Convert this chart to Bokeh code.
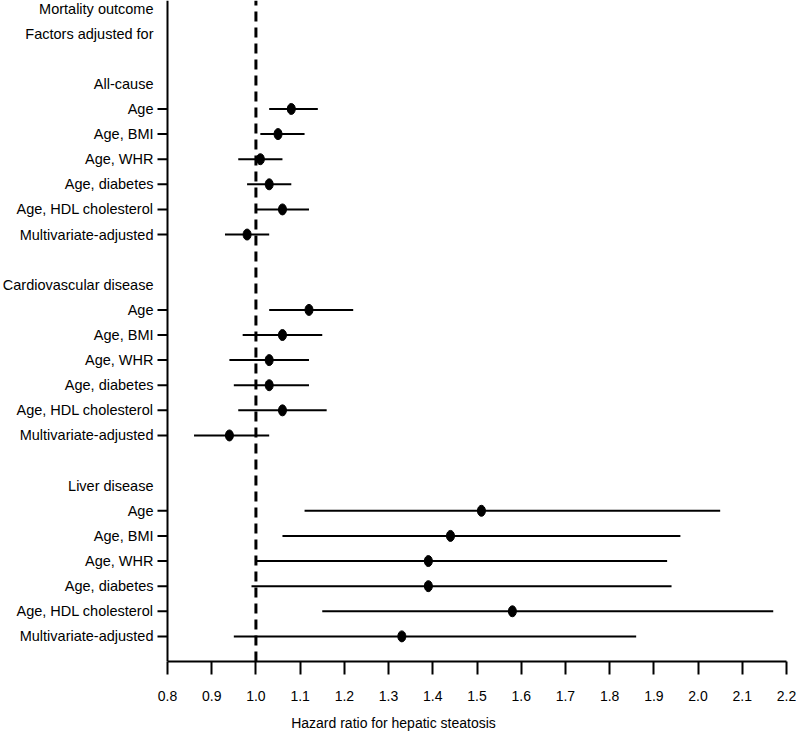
import numpy as np
from bokeh.plotting import figure
from bokeh.models import Range1d, FixedTicker, PrintfTickFormatter, ColumnDataSource
from bokeh.core.properties import value
from bokeh.embed import file_html
from bokeh.resources import INLINE

# ---- data ----
headers = ["Mortality outcome", "Factors adjusted for", "All-cause",
           "Cardiovascular disease", "Liver disease"]
header_rows = [0, 1, 3, 11, 19]

factors = ["Age", "Age, BMI", "Age, WHR", "Age, diabetes",
           "Age, HDL cholesterol", "Multivariate-adjusted"]

allcause_hr = [1.08, 1.05, 1.01, 1.03, 1.06, 0.98]
allcause_lo = [1.03, 1.01, 0.96, 0.98, 1.00, 0.93]
allcause_hi = [1.14, 1.11, 1.06, 1.08, 1.12, 1.03]

cvd_hr = [1.12, 1.06, 1.03, 1.03, 1.06, 0.94]
cvd_lo = [1.03, 0.97, 0.94, 0.95, 0.96, 0.86]
cvd_hi = [1.22, 1.15, 1.12, 1.12, 1.16, 1.03]

liver_hr = [1.51, 1.44, 1.39, 1.39, 1.58, 1.33]
liver_lo = [1.11, 1.06, 1.00, 0.99, 1.15, 0.95]
liver_hi = [2.05, 1.96, 1.93, 1.94, 2.17, 1.86]

x_ticks = [0.8, 0.9, 1.0, 1.1, 1.2, 1.3, 1.4, 1.5, 1.6, 1.7, 1.8, 1.9, 2.0, 2.1, 2.2]
x_min, x_max = 0.8, 2.2
ref_line = 1.0
x_title = "Hazard ratio for hepatic steatosis"

# ---- layout ----
FONT = "Liberation Sans"
W, H = 796, 733
axis_px = 167          # pixel position of x=0.8 inside the figure
right_px = 786         # pixel position of x=2.2 inside the figure
scale = (right_px - axis_px) / (x_max - x_min)
x_start = x_min - axis_px / scale
n_rows = 26
row_px = 25.1
first_px = 8
frame_h = int(round(first_px + n_rows * row_px))
y_top = -first_px / row_px

item_rows = list(range(4, 10)) + list(range(12, 18)) + list(range(20, 26))
item_labels = factors * 3
hr = allcause_hr + cvd_hr + liver_hr
lo = allcause_lo + cvd_lo + liver_lo
hi = allcause_hi + cvd_hi + liver_hi

src = ColumnDataSource(dict(y=item_rows, label=item_labels, hr=hr, lo=lo, hi=hi,
                            x0=[x_min] * len(item_rows)))
hsrc = ColumnDataSource(dict(y=header_rows, label=headers, x0=[x_min] * len(headers)))

p = figure(width=W, height=H, output_backend="svg", toolbar_location=None,
           x_range=Range1d(x_start, x_max), y_range=Range1d(n_rows, y_top),
           y_axis_location=None, min_border_left=0, min_border_top=0,
           min_border_right=W - right_px, min_border_bottom=H - frame_h)
p.outline_line_color = None
p.grid.visible = False
p.background_fill_color = "white"

# x axis
xa = p.xaxis[0]
xa.bounds = (x_min, x_max)
xa.ticker = FixedTicker(ticks=x_ticks)
xa.formatter = PrintfTickFormatter(format="%.1f")
xa.minor_tick_line_color = None
xa.major_tick_in = 0
xa.major_tick_out = 13
xa.major_tick_line_width = 2
xa.axis_line_width = 2
xa.axis_line_color = "black"
xa.major_tick_line_color = "black"
xa.major_label_standoff = 16
xa.major_label_text_font = FONT
xa.major_label_text_font_size = "14px"
xa.major_label_text_color = "black"
xa.axis_label = x_title
xa.axis_label_text_font = FONT
xa.axis_label_text_font_size = "14px"
xa.axis_label_text_font_style = "normal"
xa.axis_label_text_color = "black"
xa.axis_label_standoff = 11

# y axis line drawn at x=0.8
p.segment(x0=[x_min], y0=[n_rows], x1=[x_min], y1=[y_top], line_color="black", line_width=2)
# tick marks for item rows
p.ray(x="x0", y="y", length=10, length_units="screen", angle=np.pi,
      line_color="black", line_width=2, source=src)
# labels
p.text(x="x0", y="y", text="label", source=src, x_offset=-14, text_align="right",
       text_baseline="middle", text_font=value(FONT), text_font_size="14.5px", text_color="black")
p.text(x="x0", y="y", text="label", source=hsrc, x_offset=-14, text_align="right",
       text_baseline="middle", text_font=value(FONT), text_font_size="14.5px", text_color="black")

# reference line
p.segment(x0=[ref_line], y0=[n_rows], x1=[ref_line], y1=[y_top], line_color="black",
          line_width=3, line_dash="10 6")

# CIs and points
p.segment(x0="lo", y0="y", x1="hi", y1="y", source=src, line_color="black", line_width=2)
p.ellipse(x="hr", y="y", width=8, height=11, width_units="screen", height_units="screen",
          source=src, fill_color="black", line_color="black")

open("out.html", "w").write(file_html(p, INLINE))
